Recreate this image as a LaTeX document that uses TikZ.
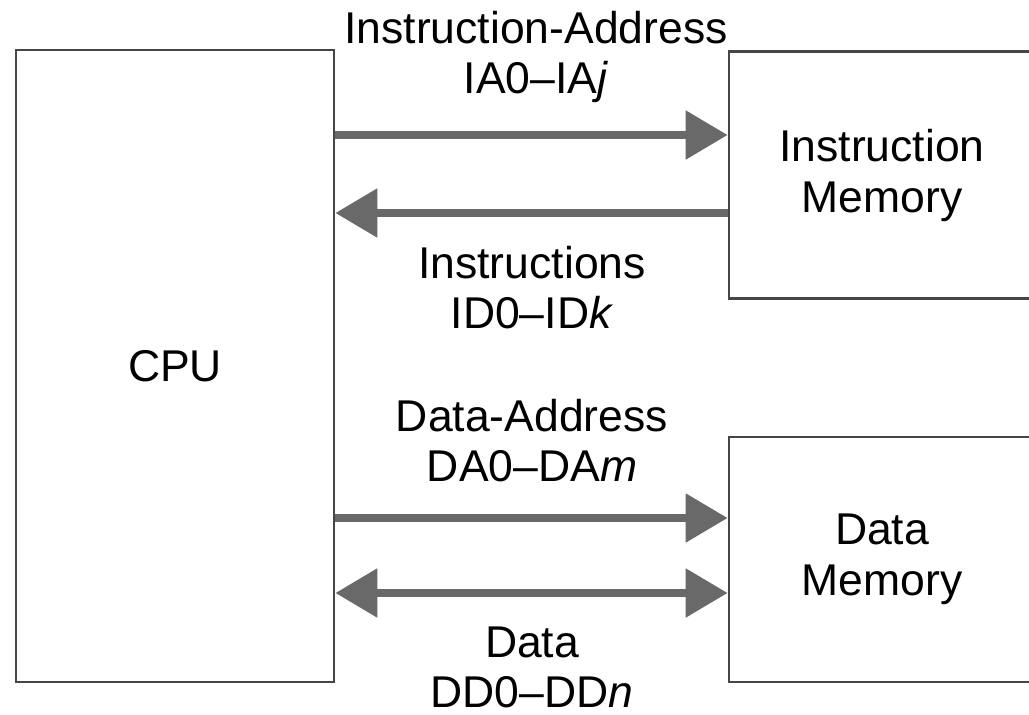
\documentclass[tikz,border=0pt]{standalone}
\usepackage{fontspec}
\setmainfont{Liberation Sans}
\usepackage{tikz}
\usetikzlibrary{arrows.meta,shapes}
\definecolor{boxline}{RGB}{70,70,70}
\definecolor{busgray}{RGB}{105,105,105}
\tikzstyle{block} = [rectangle, draw=boxline, line width=2.6pt, align=center,
font=\fontsize{44.5}{51}\selectfont]
\tikzstyle{lbl} = [align=center, inner sep=0pt, font=\fontsize{44.5}{50}\selectfont]
\tikzstyle{bus} = [draw=busgray, line width=8.5pt, -{Triangle[length=42pt,width=47pt]}]
\tikzstyle{bibus} = [draw=busgray, line width=8.5pt,
{Triangle[length=42pt,width=47pt]}-{Triangle[length=42pt,width=47pt]}]

\begin{document}
\begin{tikzpicture}[x=1pt,y=-1pt]
         \useasboundingbox (0,0) rectangle (1029,715);

         \node (CPU)  [block, minimum width=318pt, minimum height=632pt] at (175,366) {CPU};
         \node (IMem) [block, minimum width=306pt, minimum height=247pt] at (882,175) {Instruction\\Memory};
         \node (DMem) [block, minimum width=306pt, minimum height=245pt] at (882,559.5) {Data\\Memory};

         \node (iaLbl) [lbl] at (536,57)  {Instruction-Address\\IA0--IA\textit{j}};
         \node (idLbl) [lbl] at (532,288) {Instructions\\ID0--ID\textit{k}};
         \node (daLbl) [lbl] at (532,441) {Data-Address\\DA0--DA\textit{m}};
         \node (ddLbl) [lbl] at (532,667) {Data\\DD0--DD\textit{n}};

         \path [bus]   (CPU.east |- 0,135) -- (IMem.west |- 0,135);
         \path [bus]   (IMem.west |- 0,213) -- (CPU.east |- 0,213);

         \path [bus]   (CPU.east |- 0,518) -- (DMem.west |- 0,518);
         \path [bibus] (CPU.east |- 0,593) -- (DMem.west |- 0,593);

     \end{tikzpicture}
\end{document}
